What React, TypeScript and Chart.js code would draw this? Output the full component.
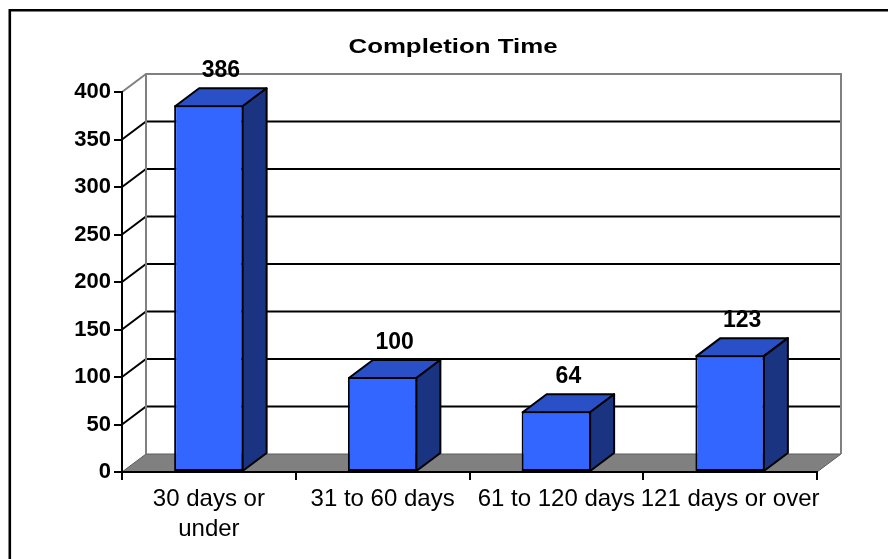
import { useEffect, useRef } from "react";
import { Chart, registerables } from "chart.js";

Chart.register(...registerables);

// ---- data ----
const chartTitle = "Completion Time";
const categories: (string | string[])[] = [
  ["30 days or", "under"],
  "31 to 60 days",
  "61 to 120 days",
  "121 days or over",
];
const completions = [386, 100, 64, 123];
const valueTicks = [0, 50, 100, 150, 200, 250, 300, 350, 400];

// ---- look ----
const FONT = '"Liberation Sans", Arial, Helvetica, sans-serif';
const DEPTH_X = 24; // oblique depth of the 3D box
const DEPTH_Y = -18;
const FRONT = "#3366ff";
const TOP = "#2a50c8";
const SIDE = "#1b3482";
const WALL_EDGE = "#808080";
const FLOOR = "#808080";

const box3d = {
  id: "box3d",
  beforeDraw(chart: any) {
    const { ctx, chartArea: a, scales } = chart;
    const y = scales.y;
    const y0 = y.getPixelForValue(valueTicks[0]);
    const yTop = y.getPixelForValue(valueTicks[valueTicks.length - 1]);
    ctx.save();

    // outer frame (left and top edges; the rest runs off the canvas)
    ctx.strokeStyle = "#000";
    ctx.lineWidth = 2.6;
    ctx.beginPath();
    ctx.moveTo(9.8, chart.height + 5);
    ctx.lineTo(9.8, 10.2);
    ctx.lineTo(chart.width + 5, 10.2);
    ctx.stroke();

    // floor
    ctx.beginPath();
    ctx.moveTo(a.left, y0);
    ctx.lineTo(a.right, y0);
    ctx.lineTo(a.right + DEPTH_X, y0 + DEPTH_Y);
    ctx.lineTo(a.left + DEPTH_X, y0 + DEPTH_Y);
    ctx.closePath();
    ctx.fillStyle = FLOOR;
    ctx.fill();
    ctx.strokeStyle = "#5c5c5c";
    ctx.lineWidth = 1;
    ctx.stroke();

    // gridlines on the side and back walls
    ctx.strokeStyle = "#000";
    ctx.lineWidth = 2;
    for (const v of valueTicks.slice(1, -1)) {
      const py = y.getPixelForValue(v);
      ctx.beginPath();
      ctx.moveTo(a.left, py);
      ctx.lineTo(a.left + DEPTH_X, py + DEPTH_Y);
      ctx.lineTo(a.right + DEPTH_X, py + DEPTH_Y);
      ctx.stroke();
    }

    // wall edges
    ctx.strokeStyle = WALL_EDGE;
    ctx.lineWidth = 2;
    ctx.beginPath();
    ctx.moveTo(a.left, yTop);
    ctx.lineTo(a.left + DEPTH_X, yTop + DEPTH_Y);
    ctx.lineTo(a.right + DEPTH_X, yTop + DEPTH_Y);
    ctx.lineTo(a.right + DEPTH_X, y0 + DEPTH_Y);
    ctx.moveTo(a.left + DEPTH_X, yTop + DEPTH_Y);
    ctx.lineTo(a.left + DEPTH_X, y0 + DEPTH_Y);
    ctx.stroke();

    // title
    ctx.fillStyle = "#000";
    ctx.font = `bold 21px ${FONT}`;
    ctx.textAlign = "center";
    ctx.textBaseline = "alphabetic";
    ctx.translate(453, 52.7);
    ctx.scale(1.23, 1);
    ctx.fillText(chartTitle, 0, 0);
    ctx.restore();
  },
  afterDatasetsDraw(chart: any) {
    const { ctx } = chart;
    const meta = chart.getDatasetMeta(0);
    ctx.save();
    ctx.lineWidth = 2;
    ctx.lineJoin = "round";
    ctx.strokeStyle = "#000";
    meta.data.forEach((bar: any, i: number) => {
      const { x, y, base, width } = bar.getProps(["x", "y", "base", "width"], true);
      const l = x - width / 2 + 1;
      const r = x + width / 2 - 1;
      const t = y + 1;
      const b = base;

      // top face
      ctx.beginPath();
      ctx.moveTo(l, t);
      ctx.lineTo(r, t);
      ctx.lineTo(r + DEPTH_X, t + DEPTH_Y);
      ctx.lineTo(l + DEPTH_X, t + DEPTH_Y);
      ctx.closePath();
      ctx.fillStyle = TOP;
      ctx.fill();
      ctx.stroke();

      // side face
      ctx.beginPath();
      ctx.moveTo(r, t);
      ctx.lineTo(r + DEPTH_X, t + DEPTH_Y);
      ctx.lineTo(r + DEPTH_X, b + DEPTH_Y);
      ctx.lineTo(r, b);
      ctx.closePath();
      ctx.fillStyle = SIDE;
      ctx.fill();
      ctx.stroke();

      // value label
      ctx.fillStyle = "#000";
      ctx.font = `bold 23px ${FONT}`;
      ctx.textAlign = "center";
      ctx.textBaseline = "alphabetic";
      ctx.fillText(String(completions[i]), x + DEPTH_X / 2, y + DEPTH_Y - 10);
    });
    ctx.restore();
  },
};

export default function App() {
  const canvasRef = useRef<HTMLCanvasElement>(null);

  useEffect(() => {
    const canvas = canvasRef.current;
    if (!canvas) return;
    const chart = new Chart(canvas, {
      type: "bar",
      data: {
        labels: categories,
        datasets: [
          {
            data: completions,
            backgroundColor: FRONT,
            borderColor: "#000",
            borderWidth: 2,
            borderSkipped: false,
            categoryPercentage: 1,
            barPercentage: 0.4,
          },
        ],
      },
      options: {
        responsive: false,
        devicePixelRatio: 1,
        animation: false,
        events: [],
        layout: {
          autoPadding: false,
          padding: { top: 92, right: 71, bottom: 0, left: 0 },
        },
        plugins: {
          legend: { display: false },
          tooltip: { enabled: false },
          title: { display: false },
        },
        scales: {
          x: {
            type: "category",
            offset: true,
            grid: {
              offset: true,
              drawOnChartArea: false,
              drawTicks: true,
              tickLength: 8,
              color: "#000",
              lineWidth: 2,
            },
            border: { display: true, color: "#000", width: 2 },
            ticks: {
              autoSkip: false,
              maxRotation: 0,
              minRotation: 0,
              padding: 4,
              color: "#000",
              font: { family: FONT, size: 24, lineHeight: 1.26 },
            },
            afterFit: (s: any) => {
              s.height = 87;
            },
          },
          y: {
            min: valueTicks[0],
            max: valueTicks[valueTicks.length - 1],
            afterBuildTicks: (s: any) => {
              s.ticks = valueTicks.map((v) => ({ value: v }));
            },
            grid: {
              drawOnChartArea: false,
              drawTicks: true,
              tickLength: 8,
              color: "#000",
              lineWidth: 2,
            },
            border: { display: true, color: "#000", width: 2 },
            ticks: {
              padding: 3,
              color: "#000",
              font: { family: FONT, size: 22, weight: "bold" },
            },
            afterFit: (s: any) => {
              s.width = 122;
            },
          },
        },
      },
      plugins: [box3d],
    });
    return () => chart.destroy();
  }, []);

  return (
    <div
      style={{
        position: "absolute",
        left: 0,
        top: 0,
        width: 888,
        height: 559,
        background: "#fff",
        overflow: "hidden",
      }}
    >
      <canvas
        ref={canvasRef}
        width={888}
        height={559}
        style={{ display: "block", width: "888px", height: "559px" }}
      />
    </div>
  );
}
